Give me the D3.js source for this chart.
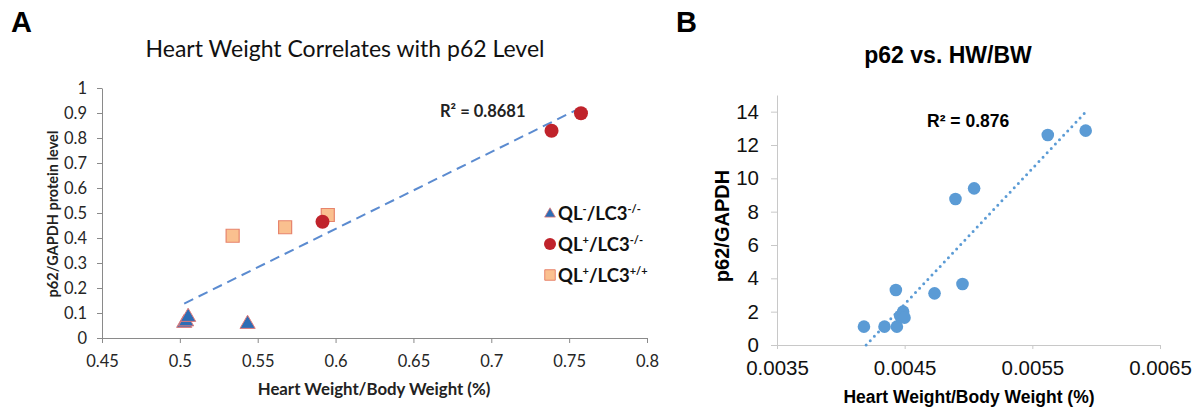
<!DOCTYPE html>
<html>
<head>
<meta charset="utf-8">
<script src="https://cdn.jsdelivr.net/npm/d3@7"></script>
<style>
  body { margin: 0; background: #fff; }
  .axA .domain, .axA line { stroke: #8a8a8a; }
  .axA text { font-family: Lato, sans-serif; font-size: 16.5px; fill: #262626; }
  .axB .domain, .axB line { stroke: #c8c8c8; }
  .axB text { font-family: "Liberation Sans", Arial, sans-serif; font-size: 20.5px; fill: #111; }
</style>
</head>
<body>
<svg id="chart" width="1204" height="408"></svg>
<script>
// ---- panel A : p62/GAPDH vs HW/BW, three genotypes ----
var triX  = [0.5028, 0.5040, 0.5053, 0.5435];
var triY  = [0.060, 0.066, 0.084, 0.056];
var circX = [0.5916, 0.7387, 0.7576];
var circY = [0.465, 0.829, 0.899];
var sqX   = [0.5339, 0.5676, 0.5950];
var sqY   = [0.409, 0.443, 0.492];
var trendA = [3.076, -1.409];   // slope, intercept (Excel linear trendline)
var xTicksA = [0.45, 0.5, 0.55, 0.6, 0.65, 0.7, 0.75, 0.8];
var yTicksA = [0, 0.1, 0.2, 0.3, 0.4, 0.5, 0.6, 0.7, 0.8, 0.9, 1];
var legBase = ["QL", "QL", "QL"];
var legSup1 = ["-", "+", "+"];
var legSup2 = ["-/-", "-/-", "+/+"];

// ---- panel B : all animals ----
var hwbw = [0.004181, 0.004342, 0.004439, 0.004465, 0.004488, 0.004499, 0.004431,
            0.004734, 0.004953, 0.004898, 0.005044, 0.005621, 0.005918];
var p62  = [1.1, 1.1, 1.1, 1.74, 2.0, 1.64, 3.3, 3.1, 3.66, 8.76, 9.4, 12.6, 12.86];
var trendB = [8132, -34.14];
var xTicksB = [0.0035, 0.0045, 0.0055, 0.0065];
var yTicksB = [0, 2, 4, 6, 8, 10, 12, 14];

var svg = d3.select("#chart");
svg.append("rect").attr("width", 1204).attr("height", 408).attr("fill", "#fff");

// ===================== A =====================
var xA = d3.scaleLinear().domain([0.45, 0.8]).range([102, 647]);
var yA = d3.scaleLinear().domain([0, 1]).range([338, 88]);
var gA = svg.append("g");

gA.append("g").attr("class", "axA")
  .attr("transform", "translate(0," + yA(0) + ")")
  .call(d3.axisBottom(xA).tickValues(xTicksA).tickFormat(String).tickSize(5).tickPadding(12).tickSizeOuter(0));
gA.append("g").attr("class", "axA")
  .attr("transform", "translate(" + xA(0.45) + ",0)")
  .call(d3.axisLeft(yA).tickValues(yTicksA).tickFormat(String).tickSize(5).tickPadding(10).tickSizeOuter(0));

var calib = "Lato, sans-serif";
svg.append("text").attr("x", 11).attr("y", 32)
  .style("font-family", "'Liberation Sans', Arial, sans-serif").style("font-weight", "bold").style("font-size", "29px")
  .text("A");
gA.append("text").attr("x", 345).attr("y", 57).attr("text-anchor", "middle")
  .style("font-family", calib).style("font-size", "23px").style("fill", "#111")
  .text("Heart Weight Correlates with p62 Level");
gA.append("text").attr("x", 374).attr("y", 395).attr("text-anchor", "middle")
  .style("font-family", calib).style("font-weight", "bold").style("font-size", "16.8px").style("fill", "#222")
  .text("Heart Weight/Body Weight (%)");
gA.append("text").attr("transform", "translate(52,214) rotate(-90)").attr("text-anchor", "middle")
  .attr("dominant-baseline", "central")
  .style("font-family", calib).style("font-weight", "bold").style("font-size", "14.5px").style("fill", "#222")
  .text("p62/GAPDH protein level");

// trendline
var allXA = triX.concat(circX, sqX);
var exA = d3.extent(allXA);
gA.append("line")
  .attr("x1", xA(exA[0])).attr("y1", yA(trendA[0] * exA[0] + trendA[1]))
  .attr("x2", xA(exA[1])).attr("y2", yA(trendA[0] * exA[1] + trendA[1]))
  .attr("stroke", "#5b8bd0").attr("stroke-width", 2).attr("stroke-dasharray", "10,6");

gA.append("text").attr("x", 440).attr("y", 117)
  .style("font-family", calib).style("font-weight", "bold").style("font-size", "16.5px").style("fill", "#222")
  .text("R² = 0.8681");

var triSym = d3.symbol().type(d3.symbolTriangle);
var sqSym = d3.symbol().type(d3.symbolSquare);

gA.selectAll(".tri").data(d3.range(triX.length)).join("path")
  .attr("d", triSym.size(100)())
  .attr("transform", function(i) { return "translate(" + xA(triX[i]) + "," + yA(triY[i]) + ")"; })
  .attr("fill", "#2d6db5").attr("stroke", "#e07a7a").attr("stroke-width", 1);
gA.selectAll(".sq").data(d3.range(sqX.length)).join("path")
  .attr("d", sqSym.size(170)())
  .attr("transform", function(i) { return "translate(" + xA(sqX[i]) + "," + yA(sqY[i]) + ")"; })
  .attr("fill", "#fac08f").attr("stroke", "#e7846c").attr("stroke-width", 1.2);
gA.selectAll(".circ").data(d3.range(circX.length)).join("circle")
  .attr("cx", function(i) { return xA(circX[i]); })
  .attr("cy", function(i) { return yA(circY[i]); })
  .attr("r", 7).attr("fill", "#c0232b");

// legend
var leg = gA.append("g").attr("transform", "translate(550,213)");
legBase.forEach(function(b, i) {
  var row = leg.append("g").attr("transform", "translate(0," + (i * 31) + ")");
  if (i === 0) row.append("path").attr("d", triSym.size(50)()).attr("transform", "translate(0,1)")
      .attr("fill", "#2d6db5").attr("stroke", "#e07a7a").attr("stroke-width", 0.8);
  if (i === 1) row.append("circle").attr("r", 6).attr("fill", "#c0232b");
  if (i === 2) row.append("path").attr("d", sqSym.size(110)())
      .attr("fill", "#fac08f").attr("stroke", "#e7846c").attr("stroke-width", 1);
  var t = row.append("text").attr("x", 8).attr("y", 7)
    .style("font-family", calib).style("font-weight", "bold").style("font-size", "18.5px").style("fill", "#111");
  t.append("tspan").text(b);
  t.append("tspan").attr("dy", -7).style("font-size", "11px").text(legSup1[i]);
  t.append("tspan").attr("dy", 7).text("/LC3");
  t.append("tspan").attr("dy", -7).style("font-size", "11px").text(legSup2[i]);
});

// ===================== B =====================
var xB = d3.scaleLinear().domain([0.0035, 0.0065]).range([777, 1160]);
var yB = d3.scaleLinear().domain([0, 15]).range([345, 95]);
var gB = svg.append("g");

gB.append("g").attr("class", "axB")
  .attr("transform", "translate(0," + yB(0) + ")")
  .call(d3.axisBottom(xB).tickValues(xTicksB).tickFormat(String).tickSize(4).tickPadding(11).tickSizeOuter(0));
gB.append("g").attr("class", "axB")
  .attr("transform", "translate(" + xB(0.0035) + ",0)")
  .call(d3.axisLeft(yB).tickValues(yTicksB).tickFormat(String).tickSize(6).tickPadding(12).tickSizeOuter(0));

var arial = "'Liberation Sans', Arial, sans-serif";
svg.append("text").attr("x", 676).attr("y", 32)
  .style("font-family", arial).style("font-weight", "bold").style("font-size", "29px")
  .text("B");
gB.append("text").attr("x", 948).attr("y", 63).attr("text-anchor", "middle")
  .style("font-family", arial).style("font-weight", "bold").style("font-size", "23px")
  .text("p62 vs. HW/BW");
gB.append("text").attr("x", 969).attr("y", 403).attr("text-anchor", "middle")
  .style("font-family", arial).style("font-weight", "bold").style("font-size", "17.5px")
  .text("Heart Weight/Body Weight (%)");
gB.append("text").attr("transform", "translate(722,226) rotate(-90)").attr("text-anchor", "middle")
  .attr("dominant-baseline", "central")
  .style("font-family", arial).style("font-weight", "bold").style("font-size", "20px")
  .text("p62/GAPDH");
gB.append("text").attr("x", 927).attr("y", 127)
  .style("font-family", arial).style("font-weight", "bold").style("font-size", "17.5px")
  .text("R² = 0.876");

var exB = d3.extent(hwbw);
var x0B = Math.max(exB[0], -trendB[1] / trendB[0]);
gB.append("line")
  .attr("x1", xB(x0B)).attr("y1", yB(trendB[0] * x0B + trendB[1]))
  .attr("x2", xB(exB[1])).attr("y2", yB(trendB[0] * exB[1] + trendB[1]))
  .attr("stroke", "#5b9bd5").attr("stroke-width", 3)
  .attr("stroke-linecap", "round").attr("stroke-dasharray", "0,6");

gB.selectAll(".pt").data(d3.range(hwbw.length)).join("circle")
  .attr("cx", function(i) { return xB(hwbw[i]); })
  .attr("cy", function(i) { return yB(p62[i]); })
  .attr("r", 6.3).attr("fill", "#5b9bd5");
</script>
</body>
</html>
